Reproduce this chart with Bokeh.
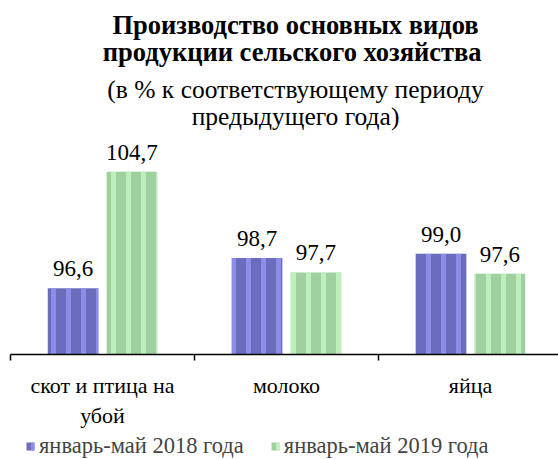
from bokeh.plotting import figure
from bokeh.layouts import column
from bokeh.models import Range1d, FixedTicker, Label, Legend, LegendItem, ColumnDataSource
from bokeh.core.properties import value
from bokeh.embed import file_html
from bokeh.resources import INLINE

categories = ["скот и птица на\nубой", "молоко", "яйца"]
series_2018 = [96.6, 98.7, 99.0]
series_2019 = [104.7, 97.7, 97.6]
label_2018 = ["96,6", "98,7", "99,0"]
label_2019 = ["104,7", "97,7", "97,6"]
series_names = ["январь-май 2018 года", "январь-май 2019 года"]
title_lines = ["Производство основных видов", "продукции  сельского хозяйства",
               "(в % к соответствующему периоду", "предыдущего года)"]

FONT = "Liberation Serif"
W = 558
H_MAIN, H_LEG = 430, 29
Y0 = 92.0
PX_PER_UNIT = 14.44
FRAME_H = 355
BOTTOM = H_MAIN - FRAME_H
CAT_PX = 184
LEFT = 10
FRAME_W = W - LEFT

STYLE18 = dict(fill_color="#6c6cbc", line_color=None, hatch_pattern="vertical_line",
               hatch_color="#9494f4", hatch_scale=15, hatch_weight=5, hatch_alpha=0.8)
STYLE19 = dict(fill_color="#a0d0a0", line_color=None, hatch_pattern="vertical_line",
               hatch_color="#c4f6c4", hatch_scale=15, hatch_weight=5, hatch_alpha=0.8)

p = figure(width=W, height=H_MAIN, output_backend="svg", toolbar_location=None,
           x_range=Range1d(0, FRAME_W / CAT_PX), y_range=Range1d(Y0, Y0 + FRAME_H / PX_PER_UNIT),
           y_axis_location=None, min_border_left=LEFT, min_border_right=0,
           min_border_top=0, min_border_bottom=BOTTOM, background_fill_color=None,
           border_fill_color=None, outline_line_color=None)
p.grid.visible = False

def ypx(dy):
    # offset in pixels from baseline (positive = up) to data units
    return Y0 + dy / PX_PER_UNIT

idx = list(range(len(categories)))
x18 = [i + 0.5 - 0.16 for i in idx]
x19 = [i + 0.5 + 0.16 for i in idx]

src18 = ColumnDataSource(dict(x=x18, top=series_2018, lab=label_2018))
src19 = ColumnDataSource(dict(x=x19, top=series_2019, lab=label_2019))

p.vbar(x="x", top="top", bottom=Y0, width=0.275, source=src18, **STYLE18)
p.vbar(x="x", top="top", bottom=Y0, width=0.275, source=src19, **STYLE19)

for src in (src18, src19):
    p.text(x="x", y="top", text="lab", source=src, text_align="center", text_baseline="bottom",
           y_offset=-12, text_font=value(FONT), text_font_size="23px", text_color="black")

ax = p.xaxis[0]
ax.ticker = FixedTicker(ticks=[i + 0.5 for i in idx], minor_ticks=[0, 1, 2, 3])
ax.major_label_overrides = {i + 0.5: c for i, c in enumerate(categories)}
ax.major_label_text_font = FONT
ax.major_label_text_font_size = "22px"
ax.major_label_text_color = "black"
ax.major_label_standoff = 12
ax.major_tick_line_color = None
ax.major_tick_out = 0
ax.major_tick_in = 0
ax.minor_tick_out = 6
ax.minor_tick_in = 0
ax.minor_tick_line_color = "black"
ax.minor_tick_line_width = 1.5
ax.axis_line_color = "black"
ax.axis_line_width = 1.5

title_y = [330, 303, 266, 239]
for k, t in enumerate(title_lines):
    p.add_layout(Label(x=(295 - LEFT) / CAT_PX, y=ypx(title_y[k]), text=t, text_align="center",
                       text_baseline="middle", text_font=FONT,
                       text_font_size="26.5px" if k < 2 else "25.5px",
                       text_font_style="bold" if k < 2 else "normal", text_color="black"))

# legend strip
p2 = figure(width=W, height=H_LEG, output_backend="svg", toolbar_location=None,
            x_range=Range1d(0, 1), y_range=Range1d(0, 1), x_axis_location=None,
            y_axis_location=None, min_border=0, background_fill_color=None,
            border_fill_color=None, outline_line_color=None)
p2.grid.visible = False
l18 = p2.vbar(x=[5], top=[1], width=0.1, **STYLE18)
l19 = p2.vbar(x=[5], top=[1], width=0.1, **STYLE19)
legend = Legend(items=[LegendItem(label=series_names[0], renderers=[l18], index=0),
                       LegendItem(label=series_names[1], renderers=[l19], index=0)],
                orientation="horizontal", location=(15, 0), padding=0, margin=0,
                border_line_color=None, background_fill_color=None, background_fill_alpha=0,
                glyph_width=10, glyph_height=10, label_standoff=4, spacing=26,
                label_text_font=FONT, label_text_font_size="22.5px", label_height=22)
p2.add_layout(legend, "center")

open("out.html", "w").write(file_html(column(p, p2, spacing=0), INLINE))
